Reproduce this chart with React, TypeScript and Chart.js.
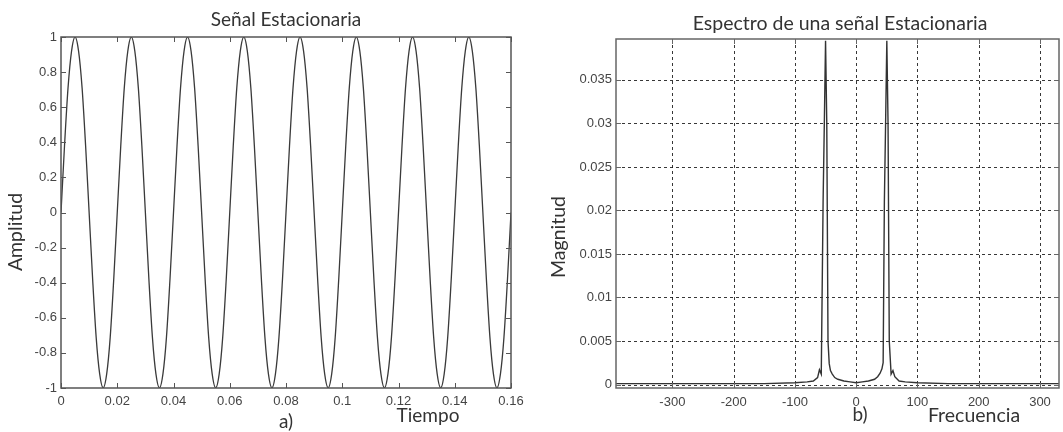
import React, { useEffect, useRef } from "react";
import { Chart, registerables } from "chart.js";
Chart.register(...registerables);

// ---------- Left chart: Señal Estacionaria ----------
const timeSeconds = [
  0, 0.00125, 0.0025, 0.00375, 0.005, 0.00625, 0.0075, 0.00875, 0.01, 0.01125, 0.0125, 0.01375, 0.015, 0.01625, 0.0175, 0.01875,
  0.02, 0.02125, 0.0225, 0.02375, 0.025, 0.02625, 0.0275, 0.02875, 0.03, 0.03125, 0.0325, 0.03375, 0.035, 0.03625, 0.0375, 0.03875,
  0.04, 0.04125, 0.0425, 0.04375, 0.045, 0.04625, 0.0475, 0.04875, 0.05, 0.05125, 0.0525, 0.05375, 0.055, 0.05625, 0.0575, 0.05875,
  0.06, 0.06125, 0.0625, 0.06375, 0.065, 0.06625, 0.0675, 0.06875, 0.07, 0.07125, 0.0725, 0.07375, 0.075, 0.07625, 0.0775, 0.07875,
  0.08, 0.08125, 0.0825, 0.08375, 0.085, 0.08625, 0.0875, 0.08875, 0.09, 0.09125, 0.0925, 0.09375, 0.095, 0.09625, 0.0975, 0.09875,
  0.1, 0.10125, 0.1025, 0.10375, 0.105, 0.10625, 0.1075, 0.10875, 0.11, 0.11125, 0.1125, 0.11375, 0.115, 0.11625, 0.1175, 0.11875,
  0.12, 0.12125, 0.1225, 0.12375, 0.125, 0.12625, 0.1275, 0.12875, 0.13, 0.13125, 0.1325, 0.13375, 0.135, 0.13625, 0.1375, 0.13875,
  0.14, 0.14125, 0.1425, 0.14375, 0.145, 0.14625, 0.1475, 0.14875, 0.15, 0.15125, 0.1525, 0.15375, 0.155, 0.15625, 0.1575, 0.15875,
  0.16,
];
const amplitude = [
  0, 0.38, 0.71, 0.92, 1, 0.92, 0.71, 0.38, 0, -0.38, -0.71, -0.92, -1, -0.92, -0.71, -0.38,
  0, 0.38, 0.71, 0.92, 1, 0.92, 0.71, 0.38, 0, -0.38, -0.71, -0.92, -1, -0.92, -0.71, -0.38,
  0, 0.38, 0.71, 0.92, 1, 0.92, 0.71, 0.38, 0, -0.38, -0.71, -0.92, -1, -0.92, -0.71, -0.38,
  0, 0.38, 0.71, 0.92, 1, 0.92, 0.71, 0.38, 0, -0.38, -0.71, -0.92, -1, -0.92, -0.71, -0.38,
  0, 0.38, 0.71, 0.92, 1, 0.92, 0.71, 0.38, 0, -0.38, -0.71, -0.92, -1, -0.92, -0.71, -0.38,
  0, 0.38, 0.71, 0.92, 1, 0.92, 0.71, 0.38, 0, -0.38, -0.71, -0.92, -1, -0.92, -0.71, -0.38,
  0, 0.38, 0.71, 0.92, 1, 0.92, 0.71, 0.38, 0, -0.38, -0.71, -0.92, -1, -0.92, -0.71, -0.38,
  0, 0.38, 0.71, 0.92, 1, 0.92, 0.71, 0.38, 0, -0.38, -0.71, -0.92, -1, -0.92, -0.71, -0.38,
  0,
];
const timeTicks = [0, 0.02, 0.04, 0.06, 0.08, 0.1, 0.12, 0.14, 0.16];
const timeTickLabels = ["0", "0.02", "0.04", "0.06", "0.08", "0.1", "0.12", "0.14", "0.16"];
const amplitudeTicks = [-1, -0.8, -0.6, -0.4, -0.2, 0, 0.2, 0.4, 0.6, 0.8, 1];
const amplitudeTickLabels = ["-1", "-0.8", "-0.6", "-0.4", "-0.2", "0", "0.2", "0.4", "0.6", "0.8", "1"];

// ---------- Right chart: Espectro ----------
const frequencyHz = [
  -392, -300, -200, -150, -100, -80, -70, -63, -60, -57, -54, -52, -50, -48, -46, -44, -42, -39, -35, -30, -20, -10,
  0, 10, 20, 30, 35, 39, 42, 44, 46, 48, 50, 52, 54, 57, 60, 63, 70, 80, 100, 150, 200, 300, 331,
];
const magnitude = [
  0.0001, 0.0001, 0.0001, 0.0001, 0.0002, 0.0003, 0.0004, 0.0008, 0.0017, 0.0012, 0.021, 0.03, 0.0395, 0.03, 0.005, 0.0024, 0.0016, 0.0012, 0.0008, 0.0006, 0.0004, 0.0003,
  0.0002, 0.0003, 0.0004, 0.0006, 0.0009, 0.0013, 0.0018, 0.0025, 0.021, 0.03, 0.0395, 0.03, 0.005, 0.0012, 0.0016, 0.0009, 0.0004, 0.0003, 0.0002, 0.0001, 0.0001, 0.0001, 0.0001,
];
const frequencyTicks = [-300, -200, -100, 0, 100, 200, 300];
const frequencyTickLabels = ["-300", "-200", "-100", "0", "100", "200", "300"];
const magnitudeTicks = [0, 0.005, 0.01, 0.015, 0.02, 0.025, 0.03, 0.035];
const magnitudeTickLabels = ["0", "0.005", "0.01", "0.015", "0.02", "0.025", "0.03", "0.035"];

const TEXT_FONT = "Lato, 'Open Sans', sans-serif";
const TICK_FONT = "'Liberation Sans', Arial, sans-serif";

const framePlugin = {
  id: "frame",
  beforeDatasetsDraw(chart: any, _args: any, opts: any) {
    const { ctx, chartArea: a, scales } = chart;
    if (!opts.grid) return;
    ctx.save();
    ctx.strokeStyle = "rgba(20,20,20,0.85)";
    ctx.lineWidth = 1;
    ctx.setLineDash([3, 3]);
    ctx.beginPath();
    scales.x.ticks.forEach((t: any) => {
      const x = Math.round(scales.x.getPixelForValue(t.value)) + 0.5;
      ctx.moveTo(x, a.top);
      ctx.lineTo(x, a.bottom);
    });
    scales.y.ticks.forEach((t: any) => {
      const y = Math.round(scales.y.getPixelForValue(t.value)) + 0.5;
      ctx.moveTo(a.left, y);
      ctx.lineTo(a.right, y);
    });
    ctx.stroke();
    ctx.restore();
  },
  afterDraw(chart: any, _args: any, opts: any) {
    const { ctx, chartArea: a, scales } = chart;
    ctx.save();
    ctx.strokeStyle = opts.color || "#555";
    ctx.lineWidth = opts.width || 1.5;
    ctx.strokeRect(a.left, a.top, a.right - a.left, a.bottom - a.top);
    const len = 5;
    ctx.lineWidth = 1;
    ctx.beginPath();
    scales.x.ticks.forEach((t: any) => {
      const x = Math.round(scales.x.getPixelForValue(t.value)) + 0.5;
      ctx.moveTo(x, a.bottom);
      ctx.lineTo(x, a.bottom - len);
      ctx.moveTo(x, a.top);
      ctx.lineTo(x, a.top + len);
    });
    scales.y.ticks.forEach((t: any) => {
      const y = Math.round(scales.y.getPixelForValue(t.value)) + 0.5;
      ctx.moveTo(a.left, y);
      ctx.lineTo(a.left + len, y);
      ctx.moveTo(a.right, y);
      ctx.lineTo(a.right - len, y);
    });
    ctx.stroke();
    (opts.texts || []).forEach((t: any) => {
      ctx.save();
      ctx.fillStyle = t.color || "#333";
      ctx.font = t.font;
      ctx.textAlign = "center";
      ctx.textBaseline = "middle";
      ctx.translate(t.x, t.y);
      if (t.rotate) ctx.rotate(t.rotate);
      ctx.fillText(t.text, 0, 0);
      ctx.restore();
    });
    ctx.restore();
  },
};

function makeScale(
  min: number,
  max: number,
  ticks: number[],
  labels: string[],
  axis: "x" | "y",
  size: number,
  padding: number
) {
  return {
    type: "linear",
    min,
    max,
    grid: { display: false, drawTicks: false },
    border: { display: false },
    afterBuildTicks: (s: any) => {
      s.ticks = ticks.map((v) => ({ value: v }));
    },
    afterFit: (s: any) => {
      if (axis === "x") s.height = size;
      else s.width = size;
    },
    ticks: {
      autoSkip: false,
      maxRotation: 0,
      minRotation: 0,
      padding,
      color: "#444",
      font: { family: TICK_FONT, size: 13 },
      callback: (_v: any, i: number) => labels[i],
    },
  };
}

export default function App() {
  const leftRef = useRef<HTMLCanvasElement>(null);
  const rightRef = useRef<HTMLCanvasElement>(null);

  useEffect(() => {
    const left = new Chart(leftRef.current as HTMLCanvasElement, {
      type: "line",
      data: {
        datasets: [
          {
            data: timeSeconds.map((t, i) => ({ x: t, y: amplitude[i] })),
            borderColor: "#3a3a3a",
            borderWidth: 1.3,
            pointRadius: 0,
            cubicInterpolationMode: "monotone",
            fill: false,
          },
        ],
      },
      options: {
        animation: false,
        responsive: false,
        layout: { padding: { top: 37, right: 19, left: 0, bottom: 0 } },
        plugins: {
          legend: { display: false },
          tooltip: { enabled: false },
          frame: {
            color: "#555",
            width: 1.5,
            grid: false,
            texts: [
              { text: "Señal Estacionaria", x: 286, y: 20, font: `19px ${TEXT_FONT}` },
              { text: "Amplitud", x: 16, y: 232, font: `19.5px ${TEXT_FONT}`, rotate: -Math.PI / 2 },
              { text: "a)", x: 286, y: 422, font: `19px ${TEXT_FONT}` },
              { text: "Tiempo", x: 428, y: 416, font: `19px ${TEXT_FONT}` },
            ],
          },
        } as any,
        scales: {
          x: makeScale(0, 0.16, timeTicks, timeTickLabels, "x", 44, 6) as any,
          y: makeScale(-1, 1, amplitudeTicks, amplitudeTickLabels, "y", 61, 4) as any,
        },
      },
      plugins: [framePlugin],
    });

    const right = new Chart(rightRef.current as HTMLCanvasElement, {
      type: "line",
      data: {
        datasets: [
          {
            data: frequencyHz.map((f, i) => ({ x: f, y: magnitude[i] })),
            borderColor: "#333",
            borderWidth: 1.4,
            pointRadius: 0,
            tension: 0,
            fill: false,
          },
        ],
      },
      options: {
        animation: false,
        responsive: false,
        layout: { padding: { top: 39, right: 4, left: 0, bottom: 0 } },
        plugins: {
          legend: { display: false },
          tooltip: { enabled: false },
          frame: {
            color: "#666",
            width: 1.5,
            grid: true,
            texts: [
              { text: "Espectro de una señal Estacionaria", x: 310, y: 24, font: `19.5px ${TEXT_FONT}` },
              { text: "Magnitud", x: 29, y: 237, font: `19.5px ${TEXT_FONT}`, rotate: -Math.PI / 2 },
              { text: "b)", x: 330, y: 415, font: `19px ${TEXT_FONT}` },
              { text: "Frecuencia", x: 444, y: 416, font: `19.5px ${TEXT_FONT}` },
            ],
          },
        } as any,
        scales: {
          x: makeScale(-392, 331, frequencyTicks, frequencyTickLabels, "x", 44, 7) as any,
          y: makeScale(-0.0004, 0.0397, magnitudeTicks, magnitudeTickLabels, "y", 86, 4) as any,
        },
      },
      plugins: [framePlugin],
    });

    return () => {
      left.destroy();
      right.destroy();
    };
  }, []);

  return (
    <div style={{ position: "fixed", left: 0, top: 0, width: 1063, height: 432, background: "#fff" }}>
      <canvas
        ref={leftRef}
        width={530}
        height={432}
        style={{ position: "absolute", left: 0, top: 0, width: 530, height: 432 }}
      />
      <canvas
        ref={rightRef}
        width={533}
        height={432}
        style={{ position: "absolute", left: 530, top: 0, width: 533, height: 432 }}
      />
    </div>
  );
}
